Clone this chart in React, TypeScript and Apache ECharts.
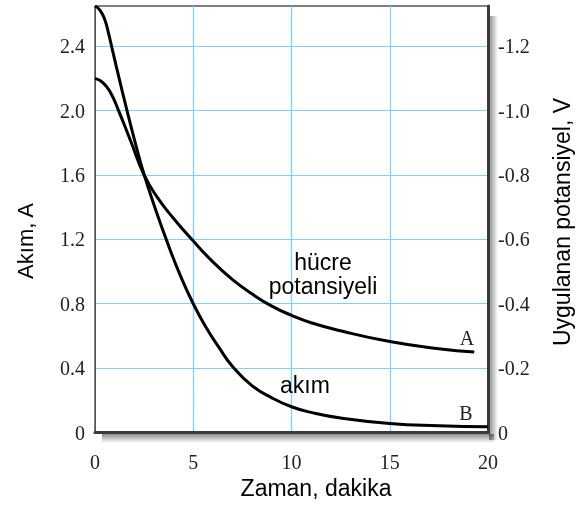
import React, { useEffect, useRef } from "react";
import * as echarts from "echarts";

// Curve B: current (A), left axis
const timeB = [0, 0.25, 0.5, 0.7, 0.9, 1.25, 1.63, 2.05, 2.48, 3.0, 3.7, 4.36, 5.0, 5.64, 6.3, 7.0, 8.0, 9.0, 10, 11, 12.5, 15, 17.5, 20];
const currentB = [2.65, 2.625, 2.565, 2.475, 2.37, 2.19, 2.0, 1.8, 1.61, 1.415, 1.175, 0.97, 0.8, 0.655, 0.53, 0.41, 0.29, 0.215, 0.16, 0.125, 0.09, 0.056, 0.042, 0.035];

// Curve A: applied cell potential (V), right axis
const timeA = [0, 0.4, 0.8, 1.2, 1.8, 2.5, 3.2, 4.0, 5, 6, 7, 8, 9, 10, 11, 12.5, 15, 17.5, 19.3];
const potentialA = [-1.1, -1.087, -1.055, -1.0, -0.908, -0.8, -0.728, -0.665, -0.595, -0.53, -0.475, -0.43, -0.3925, -0.364, -0.341, -0.316, -0.2825, -0.26, -0.25];

const leftTicks = [0, 0.4, 0.8, 1.2, 1.6, 2.0, 2.4];
const rightTicks = [-1.2, -1.0, -0.8, -0.6, -0.4, -0.2, 0];
const xTicks = [0, 5, 10, 15, 20];

const SERIF = "'Liberation Serif', 'Times New Roman', serif";
const SANS = "'Liberation Sans', Arial, sans-serif";
const GRID_BLUE = "#7fd2f2";

export default function App() {
  const ref = useRef<HTMLDivElement>(null);
  useEffect(() => {
    document.body.style.margin = "0";
    const chart = echarts.init(ref.current!, null, { renderer: "svg" });
    const fmt = (v: number) => (Math.abs(v) < 1e-9 ? "0" : v.toFixed(1));
    const option: any = {
      animation: false,
      grid: {
        left: 95,
        right: 88,
        top: 6,
        bottom: 74.5,
        show: true,
        borderColor: "#000",
        borderWidth: 1,
        backgroundColor: "#fff",
      },
      xAxis: {
        type: "value",
        min: 0,
        max: 20,
        interval: 5,
        axisLine: { show: true, lineStyle: { color: "#3a3a3a", width: 3 } },
        axisTick: { show: false },
        axisLabel: {
          margin: 19,
          fontFamily: SERIF,
          fontSize: 20,
          color: "#222",
          customValues: xTicks,
          formatter: (v: number) => String(v),
        },
        splitLine: { show: true, showMinLine: false, showMaxLine: false, lineStyle: { color: GRID_BLUE, width: 1.3 } },
      },
      yAxis: [
        {
          type: "value",
          min: 0,
          max: 2.65,
          interval: 0.4,
          position: "left",
          axisLine: { show: true, lineStyle: { color: "#555", width: 1 } },
          axisTick: { show: false },
          axisLabel: {
            margin: 10,
            fontFamily: SERIF,
            fontSize: 20,
            color: "#222",
            customValues: leftTicks,
            formatter: (v: number) => {
              const r = v / 0.4;
              return Math.abs(r - Math.round(r)) < 1e-6 ? fmt(v) : "";
            },
          },
          splitLine: { show: true, showMinLine: false, showMaxLine: false, lineStyle: { color: GRID_BLUE, width: 1.2 } },
        },
        {
          type: "value",
          min: -1.325,
          max: 0,
          inverse: true,
          position: "right",
          axisLine: { show: true, lineStyle: { color: "#3a3a3a", width: 3 } },
          axisTick: { show: false },
          axisLabel: {
            margin: 10,
            fontFamily: SERIF,
            fontSize: 20,
            color: "#222",
            customValues: rightTicks,
            formatter: (v: number) => {
              const r = v / 0.2;
              return Math.abs(r - Math.round(r)) < 1e-6 ? fmt(v) : "";
            },
          },
          splitLine: { show: false },
        },
      ],
      series: [
        {
          name: "akım",
          type: "line",
          yAxisIndex: 0,
          data: timeB.map((t, i) => [t, currentB[i]]),
          smooth: 0.5,
          showSymbol: false,
          lineStyle: { color: "#000", width: 3 },
          z: 3,
        },
        {
          name: "hücre potansiyeli",
          type: "line",
          yAxisIndex: 1,
          data: timeA.map((t, i) => [t, potentialA[i]]),
          smooth: 0.5,
          showSymbol: false,
          lineStyle: { color: "#000", width: 3 },
          z: 3,
        },
      ],
      graphic: [
        // drop shadows of the frame
        {
          type: "rect",
          z: -1,
          shape: { x: 102, y: 434, width: 392, height: 9 },
          style: {
            fill: new echarts.graphic.LinearGradient(0, 0, 0, 1, [
              { offset: 0, color: "rgba(0,0,0,0.45)" },
              { offset: 1, color: "rgba(0,0,0,0)" },
            ]),
          },
        },
        {
          type: "rect",
          z: -1,
          shape: { x: 489, y: 16, width: 9, height: 424 },
          style: {
            fill: new echarts.graphic.LinearGradient(0, 0, 1, 0, [
              { offset: 0, color: "rgba(0,0,0,0.45)" },
              { offset: 1, color: "rgba(0,0,0,0)" },
            ]),
          },
        },
        {
          type: "text",
          x: 25,
          y: 241,
          rotation: Math.PI / 2,
          style: { text: "Akım, A", fontFamily: SANS, fontSize: 22, fill: "#000", align: "center", verticalAlign: "middle" },
        },
        {
          type: "text",
          x: 562,
          y: 222,
          rotation: Math.PI / 2,
          style: { text: "Uygulanan potansiyel, V", fontFamily: SANS, fontSize: 23, fill: "#000", align: "center", verticalAlign: "middle" },
        },
        {
          type: "text",
          x: 316,
          y: 488,
          style: { text: "Zaman, dakika", fontFamily: SANS, fontSize: 23, fill: "#000", align: "center", verticalAlign: "middle" },
        },
        {
          type: "text",
          x: 323,
          y: 274,
          z: 10,
          style: { text: "hücre\npotansiyeli", fontFamily: SANS, fontSize: 23, lineHeight: 24, fill: "#000", align: "center", verticalAlign: "middle" },
        },
        {
          type: "text",
          x: 305,
          y: 385,
          z: 10,
          style: { text: "akım", fontFamily: SANS, fontSize: 23, fill: "#000", align: "center", verticalAlign: "middle" },
        },
        {
          type: "text",
          x: 467,
          y: 338,
          z: 10,
          style: { text: "A", fontFamily: SERIF, fontSize: 20, fill: "#222", align: "center", verticalAlign: "middle" },
        },
        {
          type: "text",
          x: 466,
          y: 413,
          z: 10,
          style: { text: "B", fontFamily: SERIF, fontSize: 20, fill: "#222", align: "center", verticalAlign: "middle" },
        },
      ],
    };
    chart.setOption(option);
    return () => chart.dispose();
  }, []);
  return <div ref={ref} style={{ position: "fixed", left: 0, top: 0, width: 576, height: 507 }} />;
}
